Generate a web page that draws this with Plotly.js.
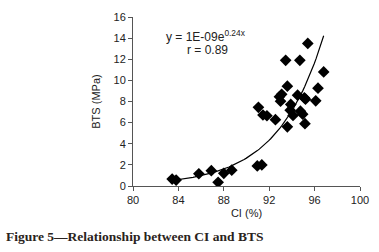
<!DOCTYPE html>
<html>
<head>
<meta charset="utf-8">
<script src="https://cdn.plot.ly/plotly-3.0.1.min.js"></script>
<style>
html,body{margin:0;padding:0;background:#fff;}
#chart{width:379px;height:252px;}
</style>
</head>
<body>
<div id="chart"></div>
<script>
// CI (%) values
const ci = [83.45, 83.8, 85.8, 86.9, 87.5, 88.0, 88.7, 90.95, 91.35, 91.05, 91.45, 91.8,
            92.55, 92.9, 93.1, 93.0, 93.45, 93.6, 93.6, 93.9, 93.85, 94.1, 94.5, 94.7,
            94.75, 94.95, 95.1, 95.2, 95.15, 95.4, 96.1, 96.3, 96.8];
// BTS (MPa) values
const bts = [0.66, 0.56, 1.16, 1.45, 0.35, 1.2, 1.5, 1.9, 2.0, 7.45, 6.72, 6.65,
             6.28, 8.45, 8.68, 8.03, 11.9, 9.45, 5.6, 7.72, 7.18, 6.68, 8.6, 11.9,
             7.08, 6.8, 8.35, 8.22, 5.9, 13.5, 8.06, 9.26, 10.8];
// Trend line coefficients as drawn (y = a * e^(b x)), label rounds them
const trendA = 5.6e-10;
const trendB = 0.2475;
// Trend line label text
const eqText = 'y = 1E-09e<sup>0.24x</sup>';
const rText = 'r = 0.89';
const captionText = '<b>Figure 5\u2014Relationship between CI and BTS</b>';
// Axis ticks
const xTicks = [80, 84, 88, 92, 96, 100];
const yTicks = [0, 2, 4, 6, 8, 10, 12, 14, 16];

const xmin = Math.min(...ci), xmax = Math.max(...ci);
const tx = [], ty = [];
for (let i = 0; i <= 80; i++) {
  const x = xmin + (xmax - xmin) * i / 80;
  tx.push(x); ty.push(trendA * Math.exp(trendB * x));
}

const font = {family: '"Liberation Sans", Arial, sans-serif', size: 11, color: '#222'};
const eqFont = {family: '"Liberation Sans", Arial, sans-serif', size: 12, color: '#222'};

const traces = [
  {x: ci, y: bts, mode: 'markers', type: 'scatter',
   marker: {symbol: 'diamond', size: 9, color: '#000'}, hoverinfo: 'none'},
  {x: tx, y: ty, mode: 'lines', type: 'scatter',
   line: {color: '#000', width: 1.2}, hoverinfo: 'none'}
];

const layout = {
  width: 379, height: 252,
  margin: {l: 133, r: 19, t: 17, b: 66},
  paper_bgcolor: '#fff', plot_bgcolor: '#fff',
  showlegend: false,
  font: font,
  xaxis: {
    range: [80, 100], tickvals: xTicks, ticktext: xTicks.map(String),
    showgrid: false, zeroline: false, showline: true, linecolor: '#555', linewidth: 1,
    ticks: 'outside', ticklen: 4, tickcolor: '#555',
    tickfont: font,
    title: {text: 'CI (%)', font: font, standoff: 4}
  },
  yaxis: {
    range: [0, 16], tickvals: yTicks, ticktext: yTicks.map(String),
    showgrid: false, zeroline: false, showline: true, linecolor: '#555', linewidth: 1,
    ticks: 'outside', ticklen: 4, tickcolor: '#555',
    tickfont: font,
    title: {text: 'BTS (MPa)', font: font, standoff: 10}
  },
  annotations: [
    {xref: 'paper', yref: 'paper', x: 0.32, y: 0.885, xanchor: 'center', yanchor: 'middle',
     text: eqText, showarrow: false, font: eqFont},
    {xref: 'paper', yref: 'paper', x: 0.33, y: 0.805, xanchor: 'center', yanchor: 'middle',
     text: rText, showarrow: false, font: eqFont},
    {xref: 'paper', yref: 'paper', x: -0.567, y: -0.296, xanchor: 'left', yanchor: 'middle',
     text: captionText, showarrow: false,
     font: {family: '"Liberation Serif", "DejaVu Serif", serif', size: 13.5, color: '#2a2320'}}
  ]
};

Plotly.newPlot('chart', traces, layout, {displayModeBar: false, staticPlot: true});
</script>
</body>
</html>
